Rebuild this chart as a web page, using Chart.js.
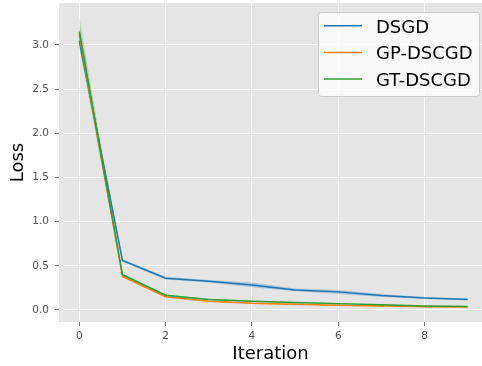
<!DOCTYPE html>
<html>
<head>
<meta charset="utf-8">
<script src="https://cdn.jsdelivr.net/npm/chart.js@4.4.1/dist/chart.umd.min.js"></script>
<style>
  html, body { margin: 0; padding: 0; background: #fff; overflow: hidden; }
  #lossChart { display: block; }
</style>
</head>
<body>
<canvas id="lossChart" width="482" height="366"></canvas>
<script>
// values
const iterations = [0, 1, 2, 3, 4, 5, 6, 7, 8, 9];
const xTicks = [0, 2, 4, 6, 8];
const yTicks = [0, 0.5, 1.0, 1.5, 2.0, 2.5, 3.0];

const dsgd   = [3.05, 0.56, 0.36, 0.326, 0.284, 0.227, 0.205, 0.163, 0.136, 0.12];
const dsgdLo = [2.98, 0.545, 0.345, 0.312, 0.258, 0.212, 0.185, 0.147, 0.126, 0.111];
const dsgdHi = [3.12, 0.575, 0.375, 0.340, 0.310, 0.242, 0.225, 0.180, 0.146, 0.129];

const gp   = [3.12, 0.38, 0.15, 0.10, 0.076, 0.065, 0.053, 0.045, 0.038, 0.033];
const gpLo = [3.04, 0.37, 0.14, 0.092, 0.068, 0.058, 0.047, 0.040, 0.033, 0.029];
const gpHi = [3.20, 0.39, 0.16, 0.108, 0.084, 0.072, 0.059, 0.050, 0.043, 0.037];

const gt   = [3.15, 0.40, 0.167, 0.12, 0.10, 0.085, 0.072, 0.058, 0.045, 0.040];
const gtLo = [2.98, 0.39, 0.158, 0.112, 0.093, 0.079, 0.066, 0.053, 0.041, 0.036];
const gtHi = [3.32, 0.41, 0.176, 0.128, 0.107, 0.091, 0.078, 0.063, 0.049, 0.044];

const FONT = "'DejaVu Sans', sans-serif";
const BLUE = '#1f77b4', ORANGE = '#ff7f0e', GREEN = '#2ca02c';

const pts = arr => arr.map((v, i) => ({ x: iterations[i], y: v }));

function band(lo, hi, color, order) {
    return [
        { label: '_lo', data: pts(lo), borderWidth: 0, pointRadius: 0, fill: false, order: order },
        { label: '_hi', data: pts(hi), borderWidth: 0, pointRadius: 0, backgroundColor: color, fill: '-1', order: order }
    ];
}

function line(label, arr, color, order) {
    return { label: label, data: pts(arr), borderColor: color, borderWidth: 1.5, pointRadius: 0, fill: false, order: order };
}

// grey ggplot panel behind the plot
const panelBg = {
    id: 'panelBg',
    beforeDraw(chart) {
        const { ctx, chartArea: a } = chart;
        ctx.save();
        ctx.fillStyle = '#e5e5e5';
        ctx.fillRect(a.left, a.top, a.right - a.left, a.bottom - a.top);
        ctx.restore();
    }
};

// legend box inside the plot, upper right
const insideLegend = {
    id: 'insideLegend',
    afterDraw(chart) {
        const ctx = chart.ctx;
        const items = [['DSGD', BLUE], ['GP-DSCGD', ORANGE], ['GT-DSCGD', GREEN]];
        ctx.save();
        ctx.beginPath();
        ctx.roundRect(318.5, 12.5, 161, 84, 3);
        ctx.fillStyle = 'rgba(255,255,255,0.8)';
        ctx.fill();
        ctx.strokeStyle = '#cccccc';
        ctx.lineWidth = 1;
        ctx.stroke();
        ctx.font = '18px ' + FONT;
        ctx.textBaseline = 'alphabetic';
        ctx.fillStyle = '#000';
        items.forEach((it, i) => {
            const y = 25.7 + i * 26.7;
            ctx.beginPath();
            ctx.moveTo(324, y);
            ctx.lineTo(362, y);
            ctx.strokeStyle = it[1];
            ctx.lineWidth = 1.5;
            ctx.stroke();
            ctx.fillText(it[0], 376, y + 7);
        });
        ctx.restore();
    }
};

new Chart(document.getElementById('lossChart').getContext('2d'), {
    type: 'line',
    data: {
        datasets: [
            ...band(dsgdLo, dsgdHi, 'rgba(31,119,180,0.3)', 6),
            line('DSGD', dsgd, BLUE, 5),
            ...band(gpLo, gpHi, 'rgba(255,127,14,0.3)', 4),
            line('GP-DSCGD', gp, ORANGE, 3),
            ...band(gtLo, gtHi, 'rgba(44,160,44,0.3)', 2),
            line('GT-DSCGD', gt, GREEN, 1)
        ]
    },
    options: {
        responsive: false,
        animation: false,
        layout: { padding: { top: 3, right: 0, bottom: 0, left: 0 } },
        plugins: { legend: { display: false }, tooltip: { enabled: false } },
        scales: {
            x: {
                type: 'linear',
                min: -0.47,
                max: 9.33,
                afterBuildTicks: s => { s.ticks = xTicks.map(v => ({ value: v })); },
                afterFit: s => { s.height = 44; s.paddingLeft = 0; s.paddingRight = 0; },
                grid: { color: '#ffffff', lineWidth: 1, tickLength: 4, tickColor: '#777', drawTicks: true },
                border: { display: false },
                ticks: { color: '#555', font: { family: FONT, size: 10.5 }, padding: 4, maxRotation: 0 },
                title: { display: true, text: 'Iteration', color: '#000', font: { family: FONT, size: 18 }, padding: { top: 0, bottom: 1 } }
            },
            y: {
                min: -0.136,
                max: 3.475,
                afterBuildTicks: s => { s.ticks = yTicks.map(v => ({ value: v })); },
                afterFit: s => { s.width = 59; s.paddingTop = 0; s.paddingBottom = 0; },
                grid: { color: '#ffffff', lineWidth: 1, tickLength: 4, tickColor: '#777', drawTicks: true },
                border: { display: false },
                ticks: { color: '#555', font: { family: FONT, size: 10.5 }, padding: 6, callback: v => v.toFixed(1) },
                title: { display: true, text: 'Loss', color: '#000', font: { family: FONT, size: 18 }, padding: { top: 8, bottom: 0 } }
            }
        }
    },
    plugins: [panelBg, insideLegend]
});
</script>
</body>
</html>
